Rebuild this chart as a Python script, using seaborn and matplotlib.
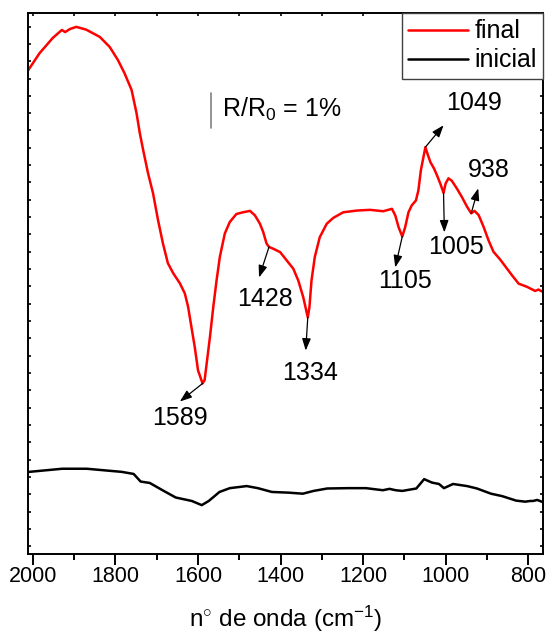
import matplotlib
matplotlib.use("Agg")
import matplotlib.pyplot as plt
import numpy as np
import pandas as pd
import seaborn as sns

# FTIR reflectance spectra (offset, R/R0 in %)
wn_final = [2012, 1984, 1952, 1930, 1922, 1910, 1895, 1871, 1838, 1814, 1794,
            1778, 1761, 1749, 1741, 1733, 1721, 1709, 1697, 1685, 1673, 1660,
            1644, 1632, 1624, 1616, 1608, 1600, 1589, 1584, 1579, 1571, 1563,
            1555, 1547, 1535, 1523, 1507, 1491, 1474, 1462, 1450, 1442, 1434,
            1428, 1418, 1401, 1385, 1369, 1357, 1345, 1334, 1330, 1325, 1317,
            1305, 1288, 1272, 1248, 1215, 1183, 1151, 1130, 1122, 1114, 1105,
            1098, 1090, 1082, 1072, 1066, 1060, 1049, 1044, 1037, 1028, 1021,
            1013, 1005, 1000, 993, 985, 973, 961, 948, 938, 930, 920, 908, 896,
            884, 868, 851, 839, 823, 803, 783, 775, 769, 758]
r_final = [13.73, 14.23, 14.67, 14.90, 14.84, 14.93, 14.99, 14.91, 14.70, 14.41,
           14.03, 13.65, 13.17, 12.50, 11.92, 11.44, 10.76, 10.19, 9.42, 8.74,
           8.17, 7.88, 7.59, 7.30, 6.91, 6.33, 5.76, 5.08, 4.70, 4.80, 5.28,
           6.05, 6.91, 7.68, 8.36, 9.03, 9.36, 9.59, 9.64, 9.68, 9.55, 9.31,
           9.07, 8.74, 8.64, 8.59, 8.49, 8.25, 8.01, 7.67, 7.19, 6.61, 6.90,
           7.67, 8.35, 8.92, 9.31, 9.48, 9.64, 9.69, 9.71, 9.67, 9.74, 9.55,
           9.21, 8.94, 9.21, 9.64, 9.84, 9.98, 10.27, 10.85, 11.52, 11.33,
           11.09, 10.90, 10.71, 10.47, 10.20, 10.47, 10.62, 10.55, 10.33,
           10.09, 9.80, 9.61, 9.68, 9.56, 9.22, 8.83, 8.50, 8.28, 8.01, 7.82,
           7.58, 7.49, 7.37, 7.41, 7.37, 7.31]

wn_inicial = [2009, 1929, 1870, 1785, 1756, 1739, 1717, 1683, 1654, 1615, 1591,
              1574, 1548, 1523, 1482, 1455, 1421, 1380, 1346, 1320, 1287, 1236,
              1193, 1152, 1136, 1121, 1105, 1071, 1052, 1033, 1016, 1004, 982,
              948, 924, 890, 863, 829, 807, 795, 788, 778, 763]
r_inicial = [2.15, 2.24, 2.24, 2.15, 2.09, 1.87, 1.83, 1.60, 1.41, 1.31, 1.19,
             1.31, 1.57, 1.68, 1.74, 1.68, 1.57, 1.55, 1.52, 1.60, 1.67, 1.68,
             1.68, 1.62, 1.66, 1.62, 1.60, 1.67, 1.94, 1.84, 1.80, 1.68, 1.80,
             1.74, 1.67, 1.52, 1.45, 1.32, 1.29, 1.31, 1.31, 1.34, 1.27]

# labelled bands: (band, point on curve, arrow end, label position)
bands = ["1589", "1428", "1334", "1105", "1049", "1005", "938"]
band_xy = [(1589, 4.70), (1428, 8.64), (1334, 6.61), (1105, 8.94),
           (1049, 11.52), (1005, 10.20), (938, 9.61)]
arrow_end = [(1644, 4.18), (1452, 7.76), (1339, 5.65), (1122, 8.05),
             (1005, 12.15), (1003, 9.06), (921, 10.33)]
label_xy = [(1644, 3.71), (1438, 7.15), (1329, 5.00), (1098, 7.67),
            (930, 12.79), (976, 8.63), (896, 10.85)]

x_ticks = [2000, 1800, 1600, 1400, 1200, 1000, 800]

sns.set_theme(style="ticks")
plt.rcParams["font.family"] = ["Liberation Sans", "DejaVu Sans"]
plt.rcParams["mathtext.fontset"] = "custom"
plt.rcParams["mathtext.rm"] = "Liberation Sans"
plt.rcParams["mathtext.it"] = "Liberation Sans"
for key in ["text.color", "axes.labelcolor", "xtick.color", "ytick.color",
            "axes.edgecolor"]:
    plt.rcParams[key] = "black"

df_final = pd.DataFrame({"wn": wn_final, "r": r_final})
df_ini = pd.DataFrame({"wn": wn_inicial, "r": r_inicial})

fig = plt.figure(figsize=(5.46, 6.35), dpi=100)
ax = fig.add_axes([28 / 546, 1 - 554 / 635, 515 / 546, 541 / 635])

sns.lineplot(data=df_final, x="wn", y="r", ax=ax, color="#ff0000", lw=1.8,
             label="final", estimator=None)
sns.lineplot(data=df_ini, x="wn", y="r", ax=ax, color="black", lw=1.8,
             label="inicial", estimator=None)

ax.set_xlim(2012, 764)
ax.set_ylim(-0.22, 15.39)

# axis frame and ticks
for s in ax.spines.values():
    s.set_linewidth(1.4)
ax.set_xticks(x_ticks)
ax.set_xticks(np.arange(1900, 700, -200), minor=True)
ax.set_xticklabels([str(t) for t in x_ticks], fontsize=15.5)
ax.tick_params(axis="x", which="major", direction="out", length=8, width=1.4,
               pad=1, top=False)
ax.tick_params(axis="x", which="minor", direction="out", length=4.5,
               width=1.4, top=False)
ax.set_yticks(np.arange(0, 15.01, 0.5))
ax.set_yticklabels([])
ax.tick_params(axis="y", which="both", direction="in", length=2.5, width=1.2,
               left=True, right=True)

# inward ticks along the top edge
top = ax.secondary_xaxis("top")
top.set_xticks(np.arange(2000, 700, -100))
top.set_xticklabels([])
top.tick_params(direction="in", length=2.5, width=1.2)
top.spines["top"].set_visible(False)

ax.set_xlabel("n$^{\\circ}$ de onda (cm$^{-1}$)", fontsize=17.5, labelpad=12)
ax.set_ylabel("")

# band annotations
for lab, p, e, t in zip(bands, band_xy, arrow_end, label_xy):
    ax.annotate("", xy=e, xytext=p,
                arrowprops=dict(arrowstyle="-|>,head_length=0.6,head_width=0.22",
                                color="black", lw=0.9, shrinkA=0, shrinkB=0))
    ax.text(t[0], t[1], lab, ha="center", va="center", fontsize=18)

# scale bar
ax.plot([1569, 1569], [12.08, 13.08], color="#808080", lw=1.2)
ax.text(1542, 12.62, "R/R$_\\mathregular{0}$ = 1%", ha="left", va="center",
        fontsize=18)

leg = ax.legend(loc="upper right", borderaxespad=0, fancybox=False,
                edgecolor="#404040", fontsize=18, handlelength=2.4,
                handletextpad=0.25, labelspacing=0.2, borderpad=0.25,
                framealpha=1)
leg.get_frame().set_linewidth(1.0)

fig.savefig("out.png", dpi=100)
